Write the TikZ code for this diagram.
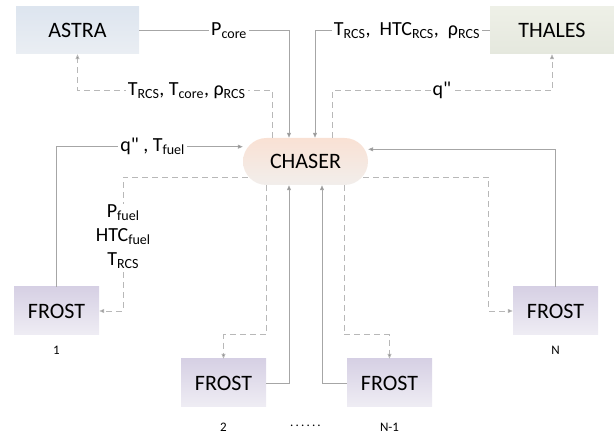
\documentclass[tikz,border=0pt]{standalone}
\usepackage{fontspec}
\setmainfont{Carlito}[Ligatures=TeXOff]
\usetikzlibrary{arrows.meta,calc}
\definecolor{lineg}{HTML}{A6A6A6}
\definecolor{dashg}{HTML}{B8B8B8}
\definecolor{tipg}{HTML}{8C8C8C}
\newcommand{\dq}{\symbol{34}}
\tikzset{
  boxnode/.style={draw=none, minimum height=47pt, inner sep=0pt, font=\fontsize{22}{26}\selectfont},
  frostbox/.style={boxnode, minimum width=85pt, minimum height=48pt, top color=frostTop, bottom color=frostBot},
  sline/.style={draw=lineg, line width=0.8pt, -{Triangle[length=5pt,width=4pt,fill=tipg]}},
  dline/.style={draw=dashg, line width=0.8pt, dash pattern=on 6pt off 4pt, -{Triangle[length=5pt,width=4pt,fill=tipg]}},
  lbl/.style={fill=white, inner sep=2pt, font=\fontsize{20}{24}\selectfont, align=center},
  numlbl/.style={font=\fontsize{13}{15}\selectfont}
}
\definecolor{frostTop}{HTML}{D6D0E4}
\definecolor{frostBot}{HTML}{EFEDF4}
\definecolor{astraTop}{HTML}{DDE5EF}
\definecolor{astraBot}{HTML}{EAEEF3}
\definecolor{thalesTop}{HTML}{EEF0E7}
\definecolor{thalesBot}{HTML}{E5E8DE}
\definecolor{chaserTop}{HTML}{F9E1D4}
\definecolor{chaserBot}{HTML}{F2EEEB}
\begin{document}
\begin{tikzpicture}[x=1pt,y=-1pt]
\useasboundingbox (0,0) rectangle (614,435);
% nodes
\node[boxnode, minimum width=123pt, top color=astraTop, bottom color=astraBot] (astra) at (77.5,30.5) {ASTRA};
\node[boxnode, minimum width=124pt, top color=thalesTop, bottom color=thalesBot] (thales) at (552,30.5) {THALES};
\node[boxnode, minimum width=125pt, rounded corners=23.5pt, top color=chaserTop, bottom color=chaserBot] (chaser) at (305.5,161.5) {CHASER};
\node[frostbox] (f1) at (56.5,311) {FROST};
\node[frostbox] (f2) at (223.5,383) {FROST};
\node[frostbox] (fn1) at (389.5,383) {FROST};
\node[frostbox] (fn) at (555.5,311) {FROST};
\node[numlbl] (n1) at ([yshift=-15pt]f1.south) {1};
\node[numlbl] (n2) at ([yshift=-20pt]f2.south) {2};
\node[numlbl] (nn1) at ([yshift=-20pt]fn1.south) {N-1};
\node[numlbl] (nn) at ([yshift=-15pt]fn.south) {N};
\node[numlbl] (dots) at (305.5,426) {.\,.\,.\,.\,.\,.};
% ASTRA <-> CHASER
\draw[sline] (astra.east) -| node[lbl, pos=0.3] {P\textsubscript{core}} ([xshift=-16.5pt]chaser.north);
\draw[dline] ([xshift=-33pt]chaser.north) -- ++(0,-47) -| node[lbl, pos=0.22] {T\textsubscript{RCS}, T\textsubscript{core}, ρ\textsubscript{RCS}} (astra.south);
% THALES <-> CHASER
\draw[sline] (thales.west) -| node[lbl, pos=0.237] {T\textsubscript{RCS},\ \ HTC\textsubscript{RCS},\ \ ρ\textsubscript{RCS}} ([xshift=9.5pt]chaser.north);
\draw[dline] ([xshift=26.5pt]chaser.north) -- ++(0,-47) -| node[lbl, pos=0.25] {q\dq} (thales.south);
% FROST 1
\draw[sline] (f1.north) |- node[lbl, pos=0.758] {q\dq\ , T\textsubscript{fuel}} ([yshift=14.8pt]chaser.west);
\draw[dline] ([xshift=5pt,yshift=-15.5pt]chaser.west) -| node[lbl, pos=0.724, inner sep=1pt] {P\textsubscript{fuel}\\HTC\textsubscript{fuel}\\T\textsubscript{RCS}} ([xshift=24pt]f1.east) -- (f1.east);
% FROST 2
\draw[dline] ([xshift=-39.5pt]chaser.south) |- ([yshift=24pt]f2.north) -- (f2.north);
\draw[sline] (f2.east) -| ([xshift=-16.5pt]chaser.south);
% FROST N-1
\draw[sline] (fn1.west) -| ([xshift=16.5pt]chaser.south);
\draw[dline] ([xshift=38.5pt]chaser.south) |- ([yshift=24pt]fn1.north) -- (fn1.north);
% FROST N
\draw[dline] ([xshift=-5pt,yshift=-15.5pt]chaser.east) -| ([xshift=-24pt]fn.west) -- (fn.west);
\draw[sline] (fn.north) |- ([yshift=12.2pt]chaser.east);
\end{tikzpicture}
\end{document}
